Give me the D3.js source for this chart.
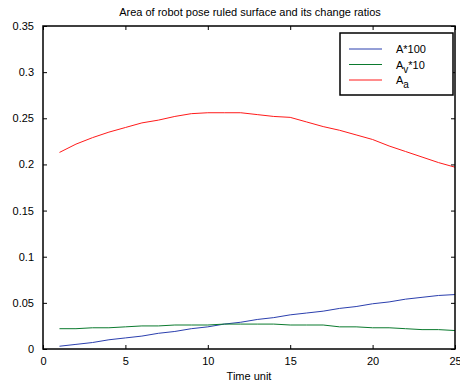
<!DOCTYPE html>
<html lang="en">
<meta charset="utf-8">
<title>Area of robot pose ruled surface</title>
<style>
  body { margin: 0; background: #fff; }
  svg { display: block; font-family: "Liberation Sans", Arial, sans-serif; }
</style>
<body>
<script src="https://d3js.org/d3.v7.min.js"></script>
<script>
  // data
  var timeUnits = d3.range(1, 26);
  var areaX100 = [0.003, 0.005, 0.007, 0.010, 0.012, 0.014, 0.017, 0.019, 0.022, 0.024,
                  0.027, 0.029, 0.032, 0.034, 0.037, 0.039, 0.041, 0.044, 0.046, 0.049,
                  0.051, 0.054, 0.056, 0.058, 0.059];
  var avX10 = [0.022, 0.022, 0.023, 0.023, 0.024, 0.025, 0.025, 0.026, 0.026, 0.026,
               0.027, 0.027, 0.027, 0.027, 0.026, 0.026, 0.026, 0.024, 0.024, 0.023,
               0.023, 0.022, 0.021, 0.021, 0.020];
  var aa = [0.213, 0.222, 0.229, 0.235, 0.240, 0.245, 0.248, 0.252, 0.255, 0.256,
            0.256, 0.256, 0.254, 0.252, 0.251, 0.246, 0.241, 0.237, 0.232, 0.227,
            0.220, 0.214, 0.208, 0.202, 0.197];
  var xTicks = [0, 5, 10, 15, 20, 25];
  var yTicks = [0, 0.05, 0.1, 0.15, 0.2, 0.25, 0.3, 0.35];

  var series = [
    {name: "A*100", values: areaX100, color: "#2b3fae"},
    {name: "Av*10", values: avX10, color: "#0b7a2e"},
    {name: "Aa", values: aa, color: "#ff1a1a"}
  ];

  // set the dimensions and margins of the graph
  var margin = {top: 26, right: 5, bottom: 35, left: 43},
      width = 460 - margin.left - margin.right,
      height = 384 - margin.top - margin.bottom;

  var x = d3.scaleLinear().domain([0, 25]).range([0, width]);
  var y = d3.scaleLinear().domain([0, 0.35]).range([height, 0]);

  var svg = d3.select("body").append("svg")
      .attr("width", 460)
      .attr("height", 384);

  // title
  svg.append("text")
      .attr("x", 250)
      .attr("y", 16)
      .attr("text-anchor", "middle")
      .attr("font-size", 11)
      .text("Area of robot pose ruled surface and its change ratios");

  var g = svg.append("g")
      .attr("transform", "translate(" + margin.left + "," + margin.top + ")");

  // lines
  var line = d3.line()
      .x(function(d, i) { return x(timeUnits[i]); })
      .y(function(d) { return y(d); });

  series.forEach(function(s) {
    g.append("path")
        .datum(s.values)
        .attr("fill", "none")
        .attr("stroke", s.color)
        .attr("stroke-width", 1)
        .attr("d", line);
  });

  // axes, ticks pointing inward
  function styleAxis(sel) {
    sel.select(".domain").remove();
    sel.selectAll(".tick line").attr("stroke", "#000");
    sel.selectAll(".tick text").attr("font-size", 11).attr("fill", "#000");
  }

  g.append("g")
      .attr("transform", "translate(0," + height + ")")
      .call(d3.axisBottom(x).tickValues(xTicks).tickSize(-4).tickPadding(8).tickFormat(d3.format("d")))
      .call(styleAxis);
  g.append("g")
      .call(d3.axisTop(x).tickValues(xTicks).tickSize(-4).tickFormat(""))
      .call(styleAxis);
  g.append("g")
      .call(d3.axisLeft(y).tickValues(yTicks).tickSize(-4).tickPadding(9).tickFormat(function(d) { return d3.format("")(+d.toFixed(2)); }))
      .call(styleAxis);
  g.append("g")
      .attr("transform", "translate(" + width + ",0)")
      .call(d3.axisRight(y).tickValues(yTicks).tickSize(-4).tickFormat(""))
      .call(styleAxis);

  // frame
  g.append("rect")
      .attr("width", width)
      .attr("height", height)
      .attr("fill", "none")
      .attr("stroke", "#000")
      .attr("stroke-width", 1.5);

  // x label
  svg.append("text")
      .attr("x", margin.left + x(12.5))
      .attr("y", 380)
      .attr("text-anchor", "middle")
      .attr("font-size", 11)
      .text("Time unit");

  // legend
  var legend = svg.append("g").attr("transform", "translate(340,33)");
  legend.append("rect")
      .attr("width", 113)
      .attr("height", 62)
      .attr("fill", "#fff")
      .attr("stroke", "#000")
      .attr("stroke-width", 1.5);

  series.forEach(function(s, i) {
    var ly = 16 + i * 15.5;
    legend.append("line")
        .attr("x1", 9).attr("x2", 42)
        .attr("y1", ly).attr("y2", ly)
        .attr("stroke", s.color);
    var t = legend.append("text")
        .attr("x", 56)
        .attr("y", ly + 4)
        .attr("font-size", 11);
    if (i === 0) {
      t.text(s.name);
    } else {
      t.append("tspan").text("A");
      t.append("tspan").attr("dy", 4).attr("font-size", 10).text(i === 1 ? "v" : "a");
      if (i === 1) t.append("tspan").attr("dy", -4).text("*10");
    }
  });
</script>
</body>
</html>
